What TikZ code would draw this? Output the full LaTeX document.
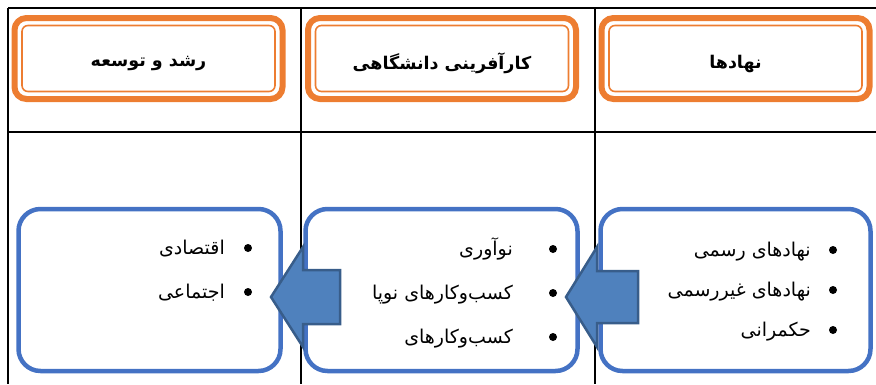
\documentclass[tikz,border=0pt]{standalone}
\usepackage{fontspec}
\newfontfamily\fa[Script=Arabic]{DejaVu Sans}
\TeXXeTstate=1
\usetikzlibrary{positioning}

\definecolor{orng}{HTML}{ED7D31}
\definecolor{boxblue}{HTML}{4472C4}
\definecolor{arrowfill}{HTML}{4F81BD}
\definecolor{arrowline}{HTML}{385D8A}

\tikzset{
  head/.style={draw=orng, line width=6pt, rounded corners=12pt, outer sep=0pt,
    minimum width=268pt, minimum height=81pt},
  headtext/.style={inner sep=0pt, font=\fa\bfseries\fontsize{17.5}{20}\selectfont},
  headinner/.style={draw=orng, line width=1.6pt, rounded corners=6pt},
  listbox/.style={draw=boxblue, line width=4.5pt, rounded corners=22pt,
    outer sep=0pt, minimum height=162pt},
  item/.style={anchor=base east, inner sep=0pt, font=\fa\fontsize{19}{22}\selectfont},
  dot/.style={circle, fill=black, inner sep=0pt, minimum size=8pt},
  bigarrow/.style={fill=arrowfill, draw=arrowline, line width=2.5pt, line join=miter},
  grid/.style={line width=1.2pt}
}

\begin{document}
\begin{tikzpicture}[x=1pt, y=-1pt]
  \useasboundingbox (0,0) rectangle (876,384);
  % table
  \draw[grid] (8,8) -- (876,8);
  \draw[grid] (8,132) -- (876,132);
  \foreach \x in {8, 301, 595}
    \draw[grid] (\x,8) -- (\x,384);

  % headings
  \node[head] (h1) at (148.5,58.5) {};
  \node[head] (h2) at (442,58.5) {};
  \node[head] (h3) at (735.5,58.5) {};
  \foreach \n in {h1,h2,h3}
    \draw[headinner] ([shift={(7.5pt,-7.5pt)}]\n.north west) rectangle ([shift={(-7.5pt,7.5pt)}]\n.south east);
  \node[headtext] (h1text) at ([yshift=-5pt]h1.center) {\beginR رشد و توسعه\endR};
  \node[headtext] (h2text) at ([yshift=-5pt]h2.center) {\beginR کارآفرینی دانشگاهی\endR};
  \node[headtext] (h3text) at ([yshift=-5pt]h3.center) {\beginR نهادها\endR};

  % lists
  \node[listbox, minimum width=262pt] (lbox) at (149.5,290) {};
  \node[listbox, minimum width=272pt] (mbox) at (441.5,290) {};
  \node[listbox, minimum width=270pt] (rbox) at (735.5,290) {};

  \foreach \t [count=\i] in {اقتصادی, اجتماعی} {
    \node[dot] (ldot\i) at (248,204+44*\i) {};
    \node[item] (ltext\i) at ([xshift=-23pt, yshift=-6pt]ldot\i.center) {\beginR\t\endR};
  }
  \foreach \t [count=\i] in {نوآوری, کسب^^^^200cوکارهای نوپا, کسب^^^^200cوکارهای} {
    \node[dot] (mdot\i) at (553,205+44*\i) {};
    \node[item] (mtext\i) at ([xshift=-40pt, yshift=-6pt]mdot\i.center) {\beginR\t\endR};
  }
  \foreach \t [count=\i] in {نهادهای رسمی, نهادهای غیررسمی, حکمرانی} {
    \node[dot] (rdot\i) at (833,210+40*\i) {};
    \node[item] (rtext\i) at ([xshift=-22pt, yshift=-6pt]rdot\i.center) {\beginR\t\endR};
  }

  % arrows
  \coordinate (tip1) at (271,297);
  \coordinate (tip2) at (566,297);
  \draw[bigarrow] (tip1) -- ++(32,-50) -- ++(0,23) -- ++(37,0) -- ++(0,54)
    -- ++(-37,0) -- ++(0,23) -- cycle;
  \draw[bigarrow] (tip2) -- ++(31,-50) -- ++(0,24) -- ++(41,0) -- ++(0,52)
    -- ++(-41,0) -- ++(0,24) -- cycle;
\end{tikzpicture}
\end{document}
